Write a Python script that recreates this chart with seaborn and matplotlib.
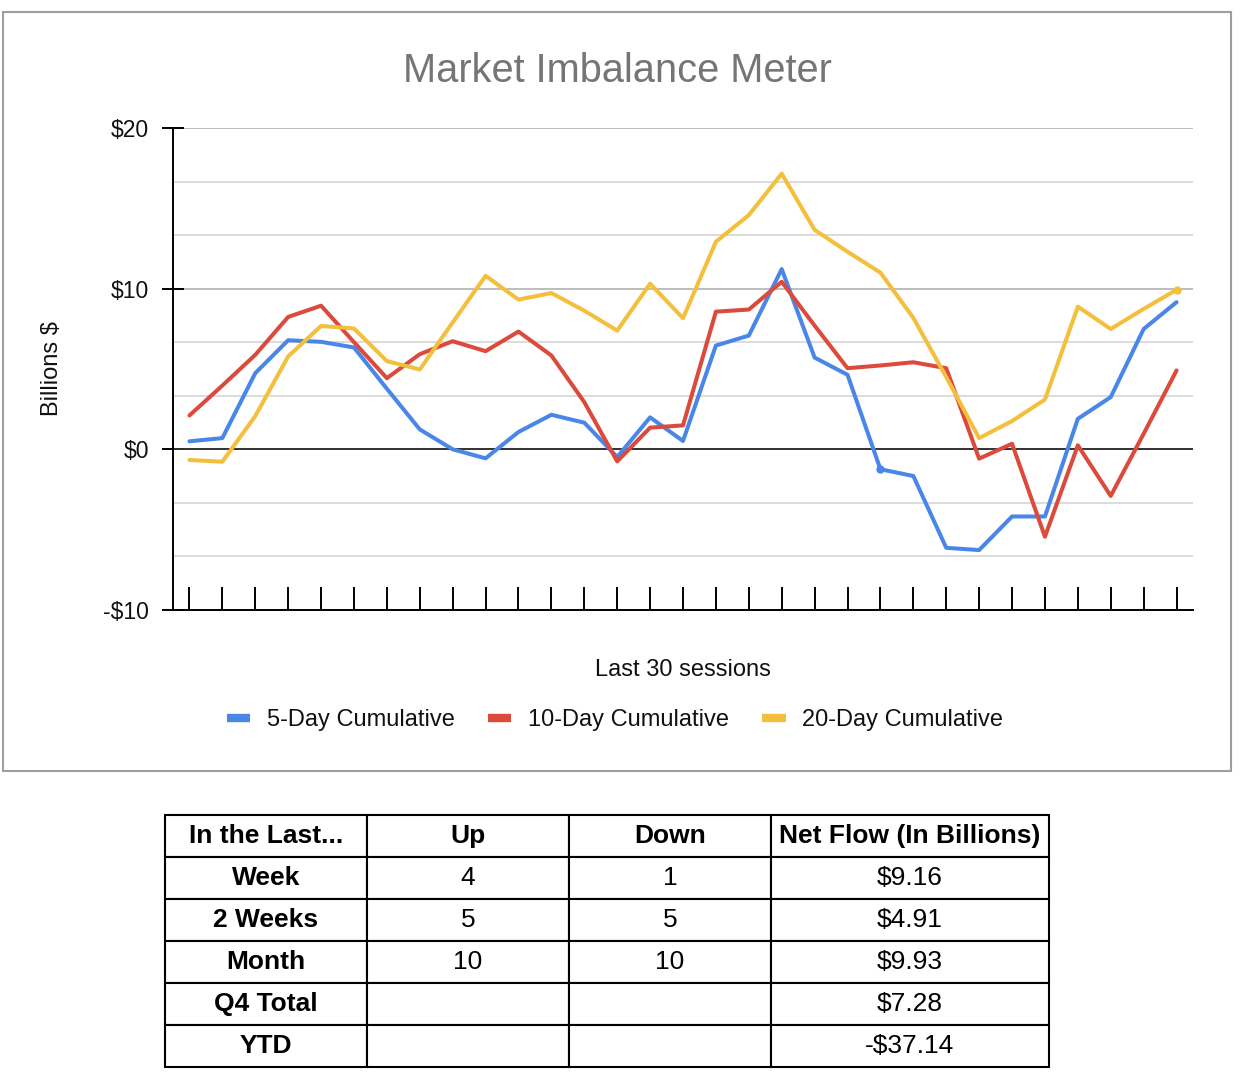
import seaborn as sns
import matplotlib.pyplot as plt
import pandas as pd
from matplotlib.lines import Line2D
from matplotlib.patches import Rectangle
from matplotlib.ticker import MultipleLocator

# values (31 sessions)
sessions = list(range(1, 32))
five_day = [0.5, 0.7, 4.74, 6.79, 6.69, 6.34, 3.77, 1.24, 0.0, -0.56, 1.08,
            2.15, 1.66, -0.48, 1.99, 0.52, 6.46, 7.08, 11.22, 5.71, 4.64,
            -1.24, -1.66, -6.13, -6.27, -4.18, -4.18, 1.9, 3.25, 7.49, 9.16]
ten_day = [2.11, 3.97, 5.88, 8.24, 8.94, 6.67, 4.43, 5.92, 6.73, 6.11, 7.33,
           5.84, 2.94, -0.75, 1.35, 1.49, 8.57, 8.7, 10.43, 7.7, 5.05,
           5.22, 5.42, 5.05, -0.58, 0.35, -5.44, 0.25, -2.9, 0.97, 4.91]
twenty_day = [-0.66, -0.77, 2.07, 5.78, 7.68, 7.52, 5.49, 4.97, 7.9, 10.8, 9.32,
              9.73, 8.63, 7.39, 10.31, 8.16, 12.92, 14.58, 17.16, 13.66, 12.3,
              11.0, 8.18, 4.5, 0.7, 1.76, 3.1, 8.88, 7.49, 8.74, 9.93]
series_names = ["5-Day Cumulative", "10-Day Cumulative", "20-Day Cumulative"]
colors = ["#4a86e8", "#db4a3b", "#f3bf3c"]

y_ticks = [-10, 0, 10, 20]
y_tick_labels = ["-$10", "$0", "$10", "$20"]

table_header = ["In the Last...", "Up", "Down", "Net Flow (In Billions)"]
table_rows = [
    ["Week", "4", "1", "$9.16"],
    ["2 Weeks", "5", "5", "$4.91"],
    ["Month", "10", "10", "$9.93"],
    ["Q4 Total", "", "", "$7.28"],
    ["YTD", "", "", "-$37.14"],
]

sns.set_style("white")
plt.rcParams["font.family"] = ["Liberation Sans", "DejaVu Sans"]

df = pd.DataFrame({
    "session": sessions * 3,
    "value": five_day + ten_day + twenty_day,
    "series": [series_names[0]] * 31 + [series_names[1]] * 31 + [series_names[2]] * 31,
})

W, H = 1244, 1072
fig = plt.figure(figsize=(W / 100, H / 100), dpi=100)

# chart frame
fig.patches.append(Rectangle((3 / W, 1 - 771 / H), 1228 / W, 759 / H,
                             transform=fig.transFigure, fill=False,
                             edgecolor="#9e9e9e", lw=1.5))

ax = fig.add_axes([173 / W, 1 - 610 / H, 1020 / W, 482 / H])
ax.set_axisbelow(True)

sns.lineplot(data=df, x="session", y="value", hue="series", palette=colors,
             hue_order=series_names, errorbar=None, lw=2.9, legend=False, ax=ax)
ax.scatter([sessions[21]], [five_day[21]], color=colors[0], s=25, zorder=5)
ax.scatter([sessions[30]], [twenty_day[30]], color=colors[2], s=25, zorder=5)

ax.set_xlim(0.5, 31.5)
ax.set_ylim(-10, 20)
ax.set_yticks(y_ticks)
ax.set_yticklabels(y_tick_labels, fontsize=16.5, color="#111111")
ax.yaxis.set_minor_locator(MultipleLocator(10 / 3))
ax.set_xticks(sessions)
ax.set_xticklabels([])

ax.grid(True, which="major", axis="y", color="#b7b7b7", lw=1.3)
ax.grid(True, which="minor", axis="y", color="#d9d9d9", lw=1.3)
ax.axhline(0, color="#333333", lw=1.4, zorder=1)

ax.tick_params(axis="y", which="major", left=True, direction="inout", length=16.5,
               width=1.4, color="black", pad=9)
ax.tick_params(axis="y", which="minor", left=False, length=0)
ax.tick_params(axis="x", which="major", bottom=True, direction="in", length=16.5,
               width=1.4, color="black")

for side in ["top", "right"]:
    ax.spines[side].set_visible(False)
for side in ["left", "bottom"]:
    ax.spines[side].set_color("black")
    ax.spines[side].set_linewidth(1.4)

ax.set_xlabel("Last 30 sessions", fontsize=17, color="#111111", va="center")
ax.xaxis.set_label_coords(0.5, (610 - 670) / 482)
ax.set_ylabel("Billions $", fontsize=17, color="#111111", va="center")
ax.yaxis.set_label_coords((52 - 173) / 1020, 0.5)

fig.text(617 / W, 1 - 71 / H, "Market Imbalance Meter", ha="center", va="center",
         fontsize=28.6, color="#757575")

handles = [Line2D([0], [0], color=c, lw=6, solid_capstyle="butt") for c in colors]
fig.legend(handles, series_names, loc="center", bbox_to_anchor=(615 / W, 1 - 720 / H),
           ncol=3, frameon=False, fontsize=17, handlelength=1.0,
           handletextpad=0.7, columnspacing=1.4, labelcolor="#111111")

# summary table below the chart
ax_t = fig.add_axes([165 / W, 1 - 1067 / H, 884 / W, 252 / H])
ax_t.axis("off")
tbl = ax_t.table(cellText=table_rows, colLabels=table_header, cellLoc="center",
                 colWidths=[202 / 884, 202 / 884, 202 / 884, 278 / 884],
                 bbox=[0, 0, 1, 1])
tbl.auto_set_font_size(False)
for (r, c), cell in tbl.get_celld().items():
    cell.set_linewidth(1.5)
    cell.set_edgecolor("black")
    cell.get_text().set_fontsize(19)
    cell.get_text().set_color("black")
    if r == 0 or c == 0:
        cell.get_text().set_fontweight("bold")

fig.savefig("out.png", dpi=100)
